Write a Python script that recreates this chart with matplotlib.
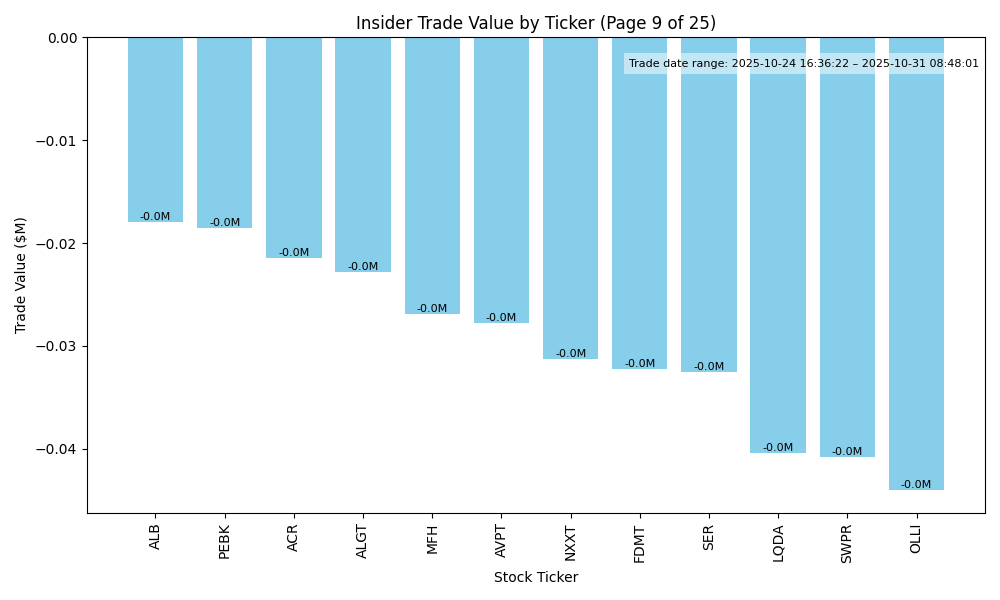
import matplotlib
matplotlib.use("Agg")
import matplotlib.pyplot as plt

tickers = ["ALB", "PEBK", "ACR", "ALGT", "MFH", "AVPT", "NXXT", "FDMT", "SER", "LQDA", "SWPR", "OLLI"]
values = [-0.0180, -0.0185, -0.0215, -0.0228, -0.0269, -0.0278, -0.0313, -0.0322, -0.0325, -0.0404, -0.0408, -0.0440]
labels = ["-0.0M"] * len(tickers)
date_range = "Trade date range: 2025-10-24 16:36:22 \u2013 2025-10-31 08:48:01"

fig, ax = plt.subplots(figsize=(10, 6), dpi=100)
x = range(len(tickers))
bars = ax.bar(x, values, color="skyblue", width=0.8)
for xi, v, lab in zip(x, values, labels):
    ax.text(xi, v, lab, ha="center", va="bottom", fontsize=8)
ax.set_xticks(list(x))
ax.set_xticklabels(tickers, rotation=90)
ax.set_title("Insider Trade Value by Ticker (Page 9 of 25)")
ax.set_xlabel("Stock Ticker", labelpad=6)
ax.set_ylabel("Trade Value ($M)")
ax.text(0.994, 0.955, date_range, transform=ax.transAxes, ha="right", va="top",
        fontsize=8, bbox=dict(facecolor="white", alpha=0.5, edgecolor="none"))
fig.subplots_adjust(left=0.087, right=0.985, top=0.938, bottom=0.1455)
fig.savefig("out.png")
